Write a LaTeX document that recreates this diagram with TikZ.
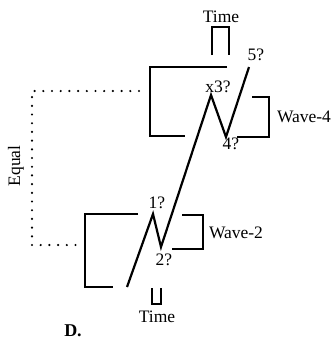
\documentclass[tikz,border=0pt]{standalone}
\usepackage{fontspec}
\setmainfont{Liberation Serif}
\begin{document}
\begin{tikzpicture}[x=1pt,y=-1pt,
  br/.style={line width=2pt},
  wave/.style={line width=2.2pt},
  lbl/.style={inner sep=0pt,font=\fontsize{17.5}{20}\selectfont},
  dots/.style={line width=2.4pt,line cap=round,dash pattern=on 0pt off 8.7pt}]
\useasboundingbox (0,0) rectangle (333,341);
% wave points
\coordinate (p0) at (127,287);
\coordinate (p1) at (153,214);
\coordinate (p2) at (161,247);
\coordinate (p3) at (211,95);
\coordinate (p4) at (226,137);
\coordinate (p5) at (249,67);
\draw[wave] (p0) -- (p1) -- (p2) -- (p3) -- (p4) -- (p5);
% upper big bracket
\draw[br] (227,67) -- (150,67) -- (150,136) -- (185,136);
% upper time bracket
\draw[br] (212,55) -- (212,27) -- (229,27) -- (229,55);
% wave-4 bracket
\draw[br] (252,97) -- (269,97) -- (269,137) -- (237,137);
% lower big bracket
\draw[br] (138,214) -- (85,214) -- (85,287) -- (113,287);
% wave-2 bracket
\draw[br] (182,215) -- (203,215) -- (203,249) -- (172,249);
% lower time bracket
\draw[br] (152,288) -- (152,304) -- (161,304) -- (161,288);
% dotted equal connector
\coordinate (d0) at (139,91);
\coordinate (d1) at (32,91);
\coordinate (d2) at (32,245);
\coordinate (d3) at (77,245);
\draw[dots] (d0) -- (d1) -- (d2) -- (d3);
% labels
\node[lbl] (t1) at (221,17) {Time};
\node[lbl] (l5) at (256,55) {5?};
\node[lbl] (l3) at (218,87) {x3?};
\node[lbl] (l4) at (231,144) {4?};
\node[lbl] (w4) at (304,117) {Wave-4};
\node[lbl,rotate=90] (eq) at (16,166) {Equal};
\node[lbl] (l1) at (157,203) {1?};
\node[lbl] (l2) at (164,260) {2?};
\node[lbl] (w2) at (236,233) {Wave-2};
\node[lbl] (t2) at (157,317) {Time};
\node[lbl,font=\fontsize{18}{20}\selectfont\bfseries] (dd) at (73,331) {D.};
\end{tikzpicture}
\end{document}
